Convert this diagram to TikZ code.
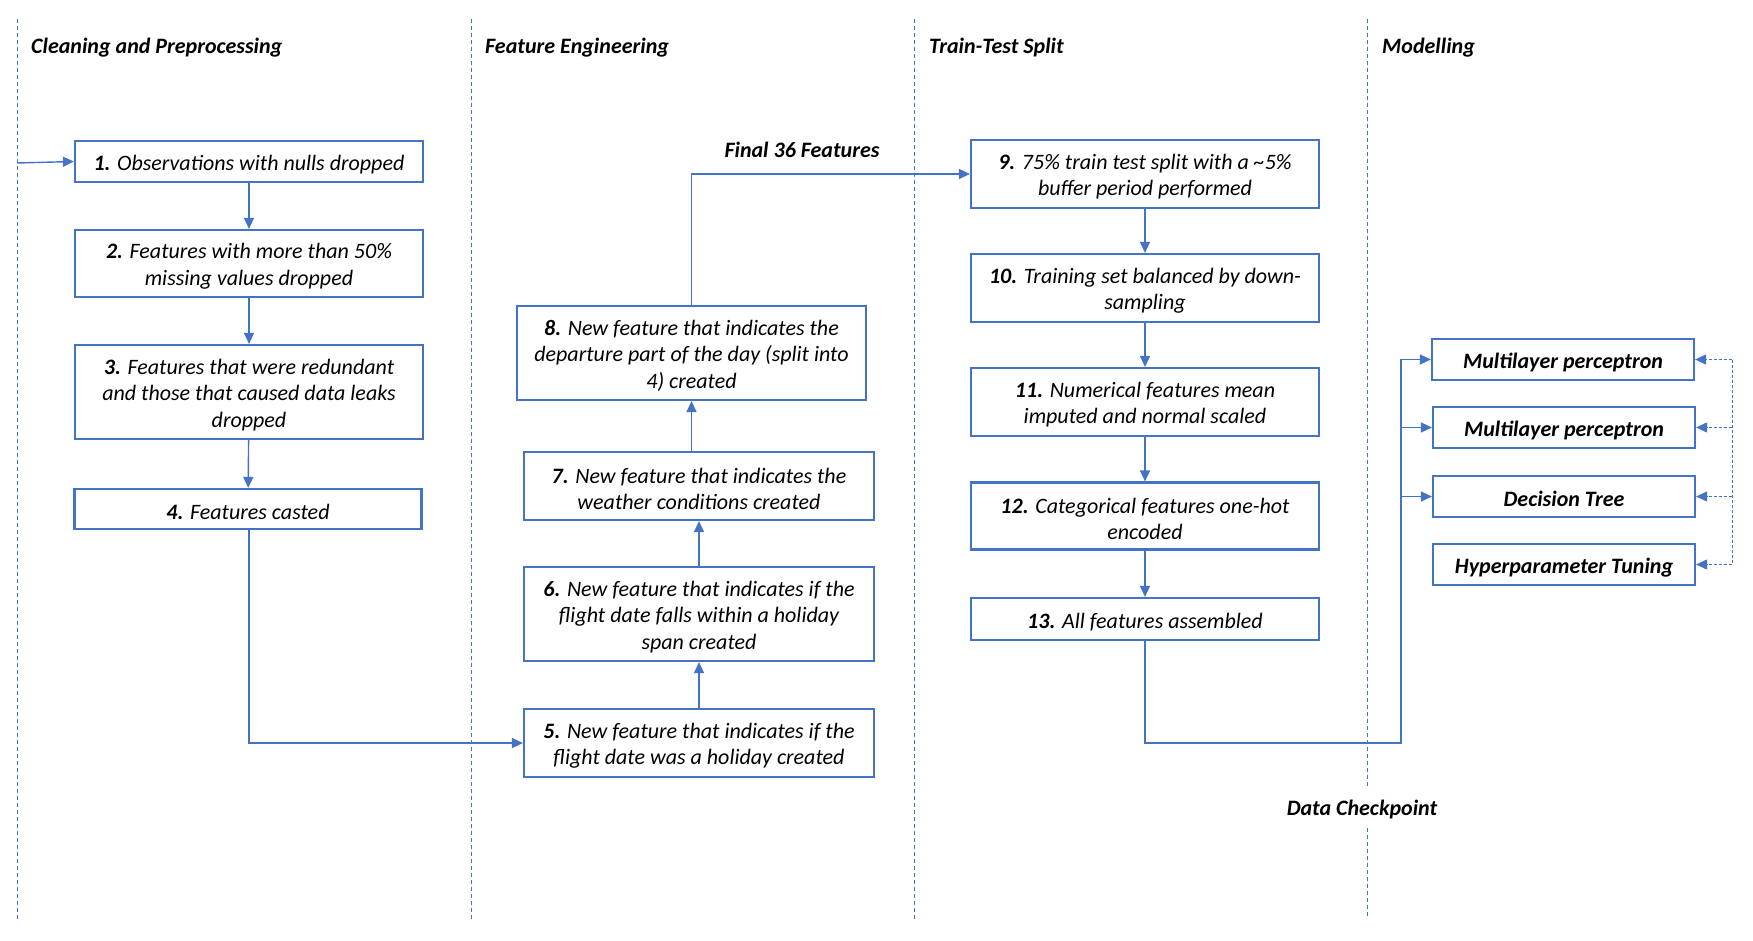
\documentclass[tikz,border=0pt]{standalone}
\usepackage{fontspec}
\setmainfont{Carlito}
\usetikzlibrary{arrows.meta}
\definecolor{bl}{HTML}{4472C4}
\newcommand\lnstrut{\rule{0pt}{21pt}}
\begin{document}
\begin{tikzpicture}[x=1pt,y=-1pt,
  box/.style={draw=bl,line width=2.2pt,align=center,inner sep=2pt,
    font=\fontsize{22}{26.5}\selectfont\itshape},
  mbox/.style={box,minimum width=262pt,minimum height=41pt,
    font=\fontsize{22}{26.5}\selectfont\bfseries\itshape},
  hdr/.style={font=\fontsize{22}{26.5}\selectfont\bfseries\itshape,inner sep=0pt},
  conn/.style={draw=bl,line width=1.4pt,-{Triangle[length=11pt,width=10pt]}},
  lane/.style={draw=bl,line width=1pt,dash pattern=on 4pt off 3pt},
  fb/.style={draw=bl,line width=1pt,dash pattern=on 3pt off 2pt,-{Triangle[length=11pt,width=10pt]}}]
\useasboundingbox (0,0) rectangle (1753,941);
% lanes
\coordinate (l1t) at (17,19); \coordinate (l1b) at (17,919);
\coordinate (l2t) at (471,19); \coordinate (l2b) at (471,919);
\coordinate (l3t) at (914,19); \coordinate (l3b) at (914,919);
\coordinate (l4t) at (1367,19); \coordinate (l4m) at (1367,787);
\coordinate (l4n) at (1367,828); \coordinate (l4b) at (1367,919);
\draw[lane] (l1t) -- (l1b);
\draw[lane] (l2t) -- (l2b);
\draw[lane] (l3t) -- (l3b);
\draw[lane] (l4t) -- (l4m);
\draw[lane] (l4n) -- (l4b);
% headers
\node[hdr,anchor=west] (h1) at (31,48) {Cleaning and Preprocessing};
\node[hdr,anchor=west] (h2) at (485,48) {Feature Engineering};
\node[hdr,anchor=west] (h3) at (929,48) {Train-Test Split};
\node[hdr,anchor=west] (h4) at (1382,48) {Modelling};
\node[hdr] (f36) at (802,149.5) {Final 36 Features};
\node[hdr] (dc) at (1362,810) {Data Checkpoint};
% column 1
\node[box,minimum width=348pt,minimum height=41pt] (b1) at (249,161.5) {\lnstrut\textbf{1.} Observations with nulls dropped};
\node[box,minimum width=348pt,minimum height=67pt] (b2) at (249,263.5) {\lnstrut\textbf{2.} Features with more than 50\%\\missing values dropped};
\node[box,minimum width=348pt,minimum height=94pt] (b3) at (249,392) {\lnstrut\textbf{3.} Features that were redundant\\and those that caused data leaks\\dropped};
\node[box,minimum width=347pt,minimum height=40pt] (b4) at (248,509) {\lnstrut\textbf{4.} Features casted};
% column 2
\node[box,minimum width=350pt,minimum height=68pt] (b5) at (699,743) {\lnstrut\textbf{5.} New feature that indicates if the\\flight date was a holiday created};
\node[box,minimum width=350pt,minimum height=94pt] (b6) at (699,614) {\lnstrut\textbf{6.} New feature that indicates if the\\flight date falls within a holiday\\span created};
\node[box,minimum width=350pt,minimum height=68pt] (b7) at (699,486) {\lnstrut\textbf{7.} New feature that indicates the\\weather conditions created};
\node[box,minimum width=349pt,minimum height=94pt] (b8) at (691.5,353) {\lnstrut\textbf{8.} New feature that indicates the\\departure part of the day (split into\\4) created};
% column 3
\node[box,minimum width=348pt,minimum height=68pt] (b9) at (1145,174) {\lnstrut\textbf{9.} 75\% train test split with a \textasciitilde5\%\\buffer period performed};
\node[box,minimum width=348pt,minimum height=68pt] (b10) at (1145,288) {\lnstrut\textbf{10.} Training set balanced by down-\\sampling};
\node[box,minimum width=348pt,minimum height=68pt] (b11) at (1145,402) {\lnstrut\textbf{11.} Numerical features mean\\imputed and normal scaled};
\node[box,minimum width=348pt,minimum height=67pt] (b12) at (1145,516) {\lnstrut\textbf{12.} Categorical features one-hot\\encoded};
\node[box,minimum width=348pt,minimum height=42pt] (b13) at (1145,619) {\lnstrut\textbf{13.} All features assembled};
% column 4
\node[mbox] (m1) at (1563,359.5) {\lnstrut Multilayer perceptron};
\node[mbox] (m2) at (1564,427.5) {\lnstrut Multilayer perceptron};
\node[mbox] (m3) at (1564,496.5) {\lnstrut Decision Tree};
\node[mbox] (m4) at (1564,564.5) {\lnstrut Hyperparameter Tuning};
% connectors
\coordinate (in) at (17,163);
\draw[conn] (in) -- (b1.west);
\draw[conn] (b1) -- (b2);
\draw[conn] (b2) -- (b3);
\draw[conn] (b3) -- (b4);
\draw[conn] (b4.south -| b1.south) |- (b5.west);
\draw[conn] (b5) -- (b6);
\draw[conn] (b6) -- (b7);
\draw[conn] (b7.north -| b8.south) -- (b8.south);
\draw[conn] (b8.north) |- (b9.west);
\draw[conn] (b9) -- (b10);
\draw[conn] (b10) -- (b11);
\draw[conn] (b11) -- (b12);
\draw[conn] (b12) -- (b13);
\coordinate (lb) at (1401,743);
\coordinate (l2) at (1401,427.5);
\coordinate (l3) at (1401,496.5);
\draw[conn] (b13.south) |- (lb) |- (m1.west);
\draw[conn] (l2) -- (m2.west);
\draw[conn] (l3) -- (m3.west);
\coordinate (r1) at (1732,359.5);
\coordinate (r2) at (1732,427.5);
\coordinate (r3) at (1732,496.5);
\coordinate (r4) at (1732,564.5);
\draw[draw=bl,line width=1pt,dash pattern=on 3pt off 2pt] (r1) -- (r4);
\draw[fb] (r1) -- (m1.east);
\draw[fb] (r2) -- (m2.east);
\draw[fb] (r3) -- (m3.east);
\draw[fb] (r4) -- (m4.east);
\end{tikzpicture}
\end{document}
